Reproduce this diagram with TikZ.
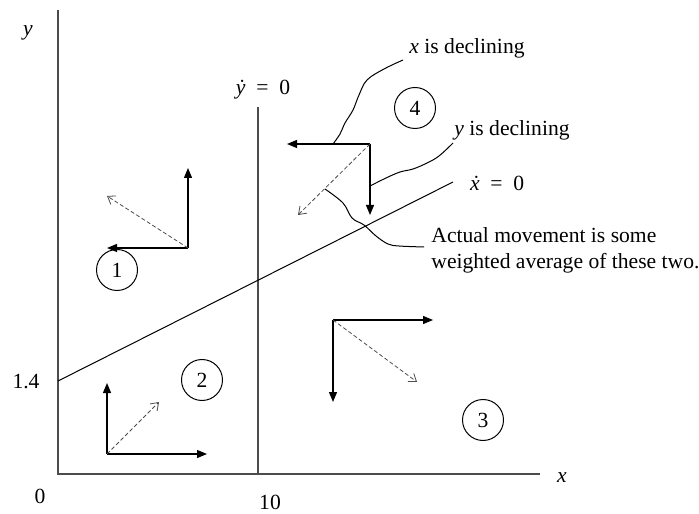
\documentclass[tikz,border=0pt]{standalone}
\usepackage{fontspec}
\setmainfont{Liberation Serif}
\usetikzlibrary{arrows.meta}
\tikzset{axis/.style={draw=black!70,line width=0.6pt},curve/.style={draw,line width=0.5pt},move/.style={-{Triangle[length=5pt,width=4pt]},line width=0.6pt},net/.style={-{Straight Barb[length=3.5pt,width=5pt]},black!70,line width=0.4pt,dash pattern=on 2pt off 1.2pt},region/.style={circle,draw,line width=0.5pt,minimum size=20.5pt,inner sep=0pt},note/.style={align=left,inner sep=0pt,font=\fontsize{10.8}{13}\selectfont},callout/.style={line width=0.5pt}}

\begin{document}
\begin{tikzpicture}[x=0.5pt,y=0.5pt,font=\fontsize{10.8}{13}\selectfont]
\useasboundingbox (-58,-39) rectangle (641,474);
% axes
\coordinate (o) at (0,0);
\coordinate (ytop) at (0,464);
\coordinate (xend) at (482,0);
\draw[axis] (ytop) -- (o) -- (xend);
\node (ylbl) at (-30,441) {\textit{y}};
\node (xlbl) at (504,-4) {\textit{x}};
\node (zero) at (-18,-22) {0};
\node (ten) at (212,-28) {10};
\node (yint) at (-32,92) {1.4};
% isoclines
\coordinate (ydotlo) at (200,0);
\coordinate (ydothi) at (200,367);
\draw[axis] (ydotlo) -- (ydothi);
\node (ydotlbl) at (205,384) {\textit{\.y}\enspace=\enspace0};
\coordinate (xdotlo) at (0,93);
\coordinate (xdothi) at (395,292);
\draw[curve] (xdotlo) -- (xdothi);
\node[anchor=west] (xdotlbl) at (405,291) {\textit{\.x}\enspace=\enspace0};
% regions
\node[region] (r1) at (59,204) {1};
\node[region] (r2) at (144,94) {2};
\node[region] (r3) at (425,54) {3};
\node[region] (r4) at (357,366) {4};
% region 1
\coordinate (c1) at (130,226);
\coordinate (c1u) at (130,306);
\coordinate (c1l) at (49,226);
\coordinate (c1d) at (49,278);
\draw[move] (c1) -- (c1u);
\draw[move] (c1) -- (c1l);
\draw[net] (c1) -- (c1d);
% region 2
\coordinate (c2) at (49,20);
\coordinate (c2u) at (49,91);
\coordinate (c2r) at (149,20);
\coordinate (c2d) at (101,72);
\draw[move] (c2) -- (c2u);
\draw[move] (c2) -- (c2r);
\draw[net] (c2) -- (c2d);
% region 3
\coordinate (c3) at (275,154);
\coordinate (c3r) at (375,154);
\coordinate (c3b) at (275,72);
\coordinate (c3d) at (359,92);
\draw[move] (c3) -- (c3r);
\draw[move] (c3) -- (c3b);
\draw[net] (c3) -- (c3d);
% region 4
\coordinate (c4) at (312,330);
\coordinate (c4l) at (229,330);
\coordinate (c4b) at (312,259);
\coordinate (c4d) at (240,259);
\draw[move] (c4) -- (c4l);
\draw[move] (c4) -- (c4b);
\draw[net] (c4) -- (c4d);
% notes
\node[note,anchor=west] (xdecl) at (351,426) {\textit{x} is declining};
\node[note,anchor=west] (ydecl) at (396,344) {\textit{y} is declining};
\node[note,anchor=west] (actual) at (373,224) {Actual movement is some\\weighted average of these two.};
\coordinate (onx) at (275,330);
\coordinate (ony) at (312,288);
\coordinate (onnet) at (267,285);
\draw[callout] plot[smooth,tension=0.6] coordinates {(345,414) (326,405) (309,394) (301,379) (295,364) (287,351) (282,340) (onx)};
\draw[callout] plot[smooth,tension=0.6] coordinates {(395,331) (381,318) (369,311) (355,305) (342,302) (328,296) (ony)};
\draw[callout] plot[smooth,tension=0.6] coordinates {(366,227) (341,228) (330,230) (318,238) (306,249) (294,256) (285,271) (onnet)};
\end{tikzpicture}
\end{document}
